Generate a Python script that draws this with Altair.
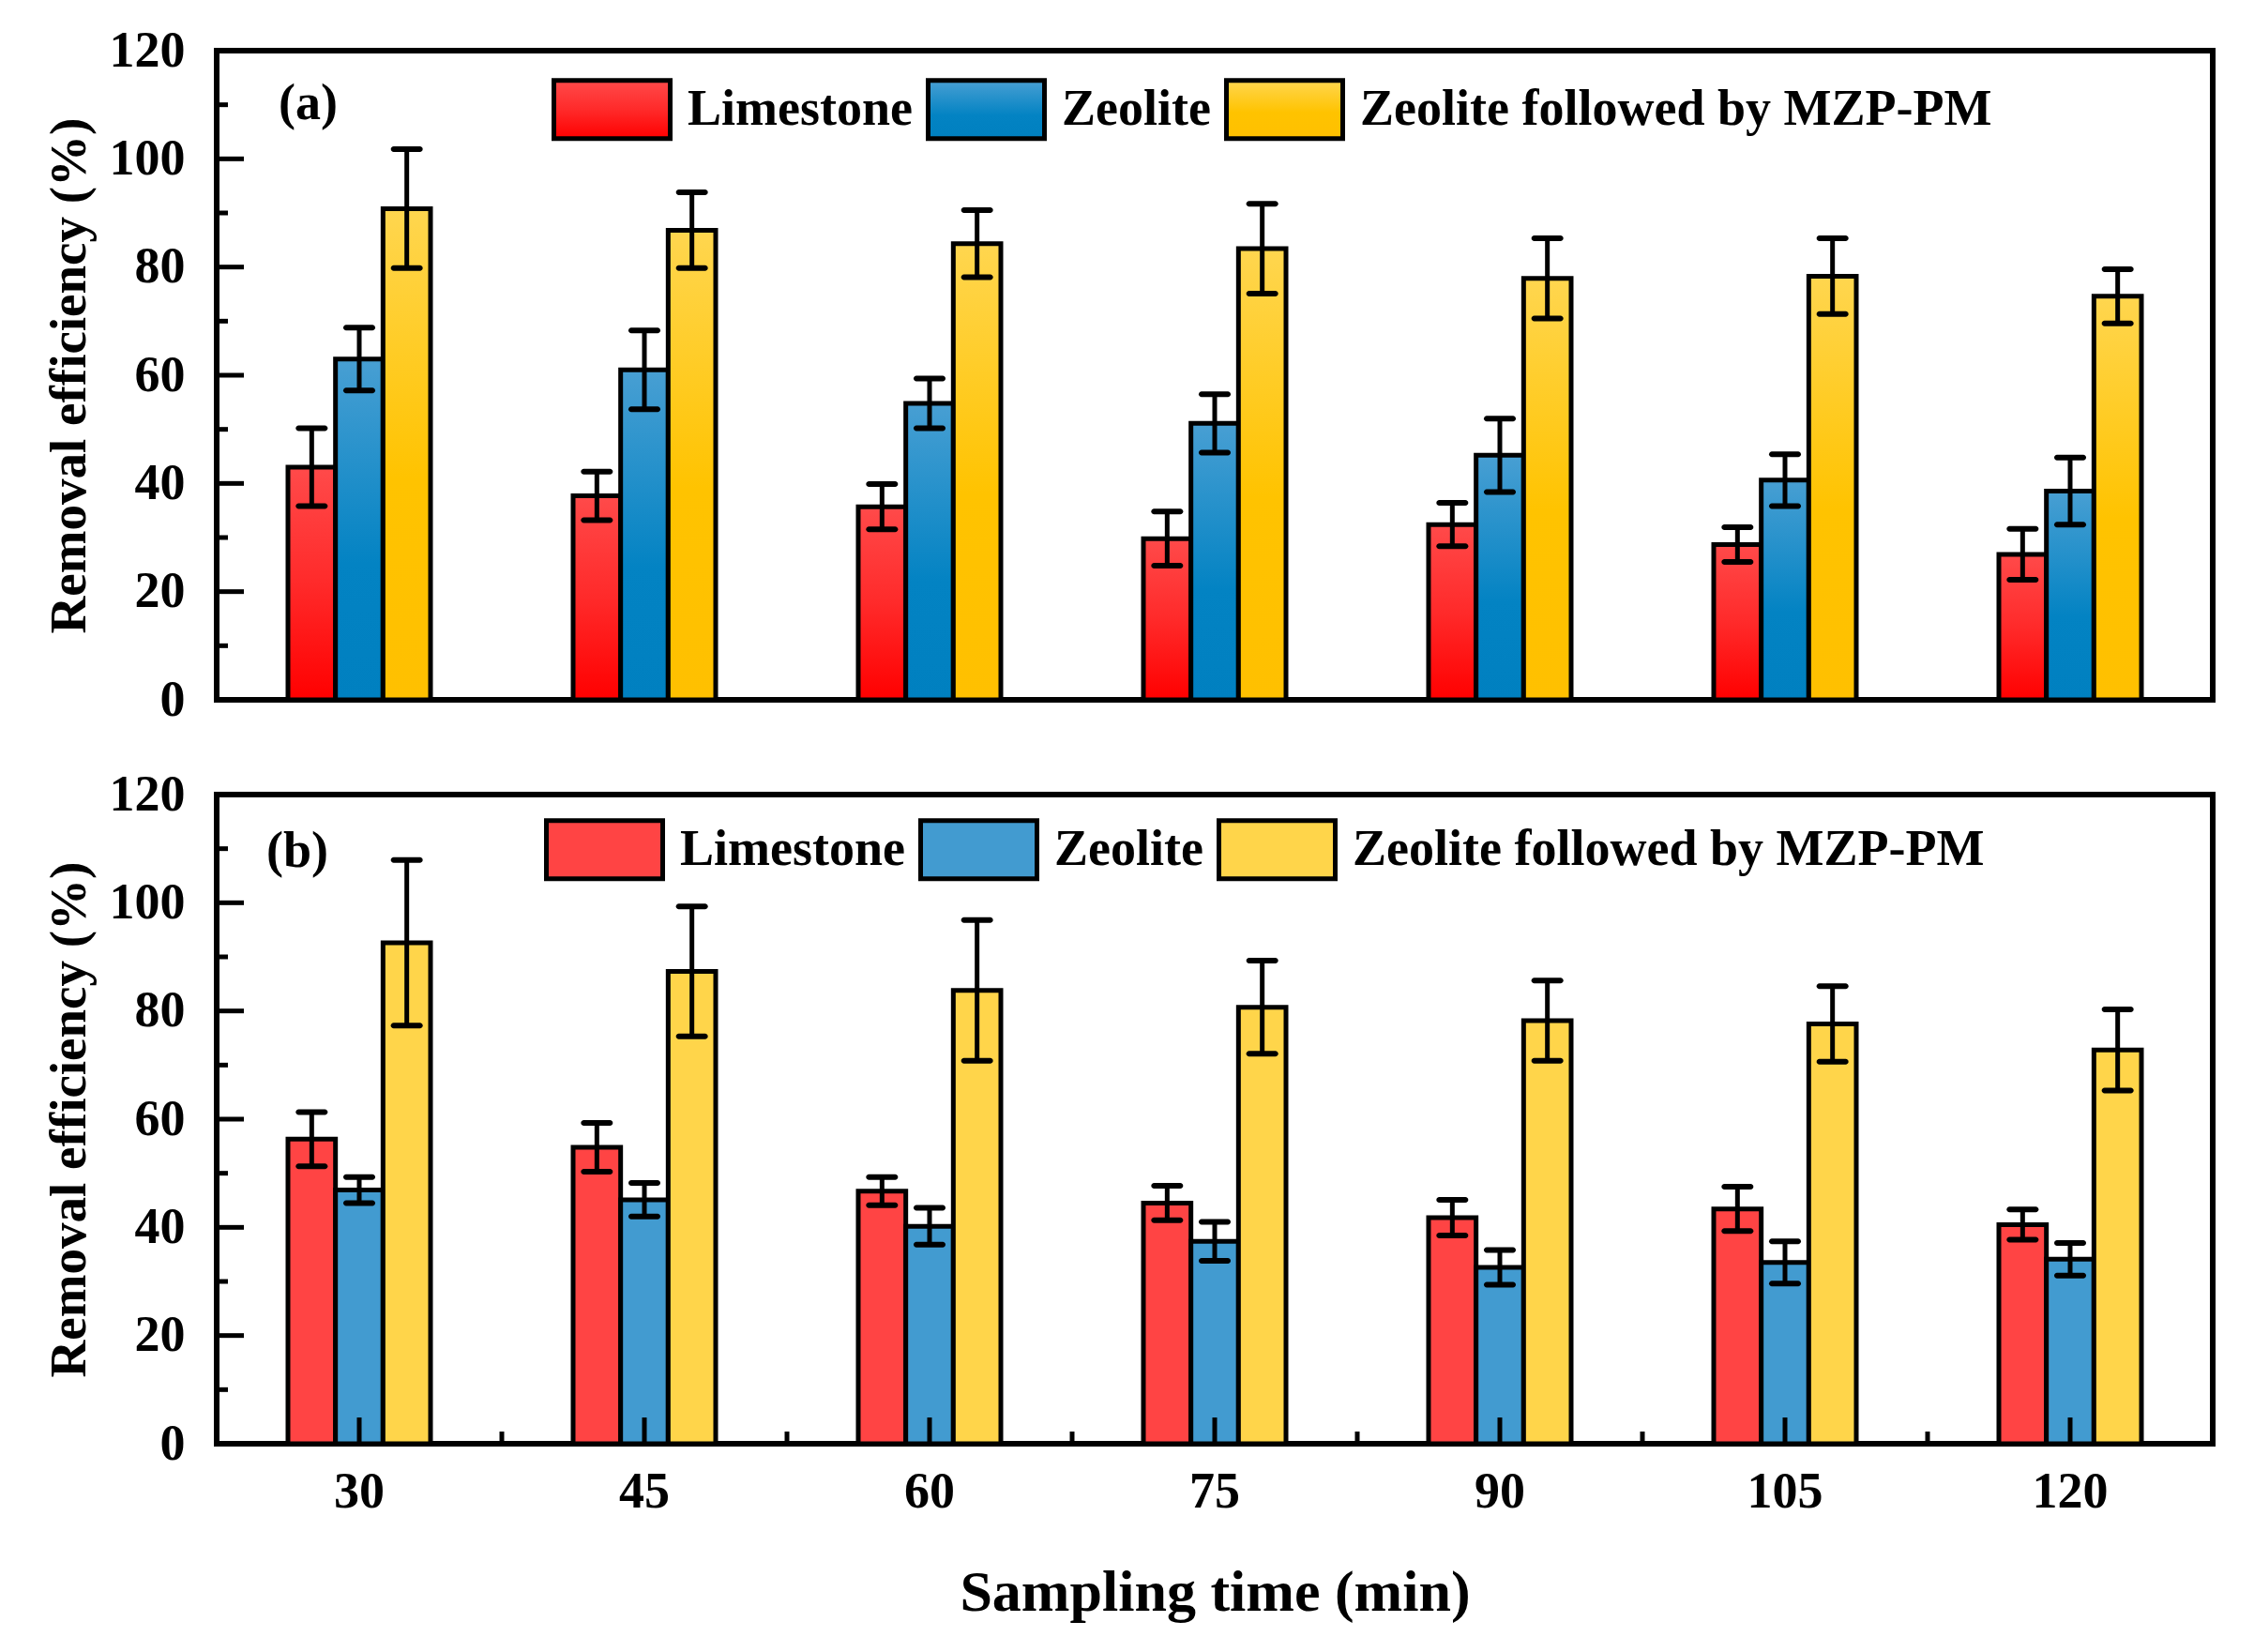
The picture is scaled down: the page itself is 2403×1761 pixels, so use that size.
import altair as alt
import pandas as pd

times = ["30", "45", "60", "75", "90", "105", "120"]
series = ["Limestone", "Zeolite", "Zeolite followed by MZP-PM"]

# panel (a)
a_lime = [43.0, 37.7, 35.7, 29.8, 32.4, 28.7, 26.9]
a_lime_err = [7.2, 4.5, 4.2, 5.0, 4.0, 3.2, 4.7]
a_zeo = [63.0, 61.0, 54.8, 51.1, 45.2, 40.6, 38.6]
a_zeo_err = [5.8, 7.3, 4.6, 5.4, 6.8, 4.8, 6.2]
a_mzp = [90.8, 86.8, 84.3, 83.4, 77.9, 78.3, 74.6]
a_mzp_err = [11.0, 7.0, 6.2, 8.3, 7.4, 7.0, 5.0]

# panel (b)
b_lime = [56.3, 54.8, 46.7, 44.5, 41.8, 43.4, 40.5]
b_lime_err = [5.0, 4.5, 2.6, 3.2, 3.3, 4.1, 2.8]
b_zeo = [46.9, 45.1, 40.2, 37.4, 32.6, 33.5, 34.1]
b_zeo_err = [2.4, 3.1, 3.4, 3.6, 3.2, 3.9, 3.0]
b_mzp = [92.6, 87.3, 83.8, 80.7, 78.2, 77.6, 72.8]
b_mzp_err = [15.3, 12.0, 13.0, 8.6, 7.4, 7.0, 7.5]

major_ticks = [0, 20, 40, 60, 80, 100, 120]
minor_ticks = [10, 30, 50, 70, 90, 110]

W, H = 2128, 692
STEP = W / len(times)
FONT = "Liberation Serif"


def grad(top, mid, bottom, mid_at):
    return {"expr": (
        "{gradient: 'linear', x1: 0, y1: 0, x2: 0, y2: 1, stops: ["
        f"{{offset: 0, color: '{top}'}}, {{offset: {mid_at}, color: '{mid}'}}, "
        f"{{offset: 1, color: '{bottom}'}}]}}"
    )}


colours_a = [
    grad("#ff4a4a", "#ff2a2a", "#ff0000", 0.5),
    grad("#489fd3", "#0383c3", "#0080c0", 0.6),
    grad("#ffd64f", "#ffc300", "#ffc000", 0.55),
]
colours_b = ["#ff4444", "#429bd0", "#ffd54a"]


def frame(means, errs):
    rows = []
    for s, m, e in zip(series, means, errs):
        for t, v, d in zip(times, m, e):
            rows.append({"time": t, "series": s, "mean": v, "lo": v - d, "hi": v + d})
    return pd.DataFrame(rows)


def panel(df, label, label_x, label_y, colours, leg_x, leg_y, show_x):
    x_scale = alt.Scale(domain=times, paddingInner=0.5, paddingOuter=0.25)
    y_scale = alt.Scale(domain=[0, 120], nice=False)
    if show_x:
        x_axis = alt.Axis(ticks=False, domain=False, grid=False, labelAngle=0,
                          labelPadding=24, titlePadding=50, titleFontSize=62)
    else:
        x_axis = None
    y_axis = alt.Axis(values=major_ticks, ticks=False, domain=False, grid=False,
                      labelPadding=34, titlePadding=14, titleFontSize=55)
    x = alt.X("time:N", scale=x_scale, axis=x_axis, title="Sampling time (min)")
    off = alt.XOffset("series:N", scale=alt.Scale(domain=series, paddingInner=0, paddingOuter=0))

    def y(field):
        return alt.Y(field, scale=y_scale, axis=y_axis, title="Removal efficiency (%)")

    base = alt.Chart(df)
    bars = base.mark_bar(stroke="black", strokeWidth=5).encode(
        x=x, xOffset=off, y=y("mean:Q"),
        color=alt.Color(
            "series:N",
            scale=alt.Scale(domain=series, range=colours),
            legend=alt.Legend(
                title=None, orient="none", legendX=leg_x, legendY=leg_y,
                direction="horizontal", symbolType="M-1,-0.5H1V0.5H-1Z",
                symbolSize=124 * 124, symbolStrokeColor="black", symbolStrokeWidth=5,
                symbolOpacity=1, labelFont=FONT, labelFontSize=54, labelFontWeight="bold",
                labelColor="black", labelOffset=16, columnPadding=6, padding=0,
                labelLimit=1000,
            ),
        ),
    )
    err = base.mark_rule(color="black", strokeWidth=5).encode(
        x=x, xOffset=off, y=y("lo:Q"), y2="hi:Q"
    )
    cap_hi = base.mark_tick(color="black", size=34, thickness=6, opacity=1, cornerRadius=3).encode(
        x=x, xOffset=off, y=y("hi:Q")
    )
    cap_lo = base.mark_tick(color="black", size=34, thickness=6, opacity=1, cornerRadius=3).encode(
        x=x, xOffset=off, y=y("lo:Q")
    )
    ymaj = alt.Chart(pd.DataFrame({"v": major_ticks})).mark_rule(color="black", strokeWidth=5).encode(
        y=y("v:Q"), x=alt.value(0), x2=alt.value(29)
    )
    ymin = alt.Chart(pd.DataFrame({"v": minor_ticks})).mark_rule(color="black", strokeWidth=5).encode(
        y=y("v:Q"), x=alt.value(0), x2=alt.value(12)
    )
    tag = alt.Chart(pd.DataFrame({"lab": [label]})).mark_text(
        font=FONT, fontSize=54, fontWeight="bold", align="left", baseline="middle", color="black"
    ).encode(x=alt.value(label_x), y=alt.value(label_y), text="lab:N")

    layers = [bars, err, cap_hi, cap_lo, ymaj, ymin]
    if show_x:
        tdf = pd.DataFrame({"time": times})
        xmaj = alt.Chart(tdf).mark_rule(color="black", strokeWidth=5).encode(
            x=x, y=alt.value(H), y2=alt.value(H - 28)
        )
        xmin = alt.Chart(tdf).mark_rule(color="black", strokeWidth=5, xOffset=STEP / 2).encode(
            x=x, y=alt.value(H), y2=alt.value(H - 13)
        )
        layers += [xmaj, xmin]
    layers.append(tag)
    return alt.layer(*layers).properties(width=W, height=H)


top = panel(frame([a_lime, a_zeo, a_mzp], [a_lime_err, a_zeo_err, a_mzp_err]),
            "(a)", 66, 57, colours_a, 357, -2, False)
bottom = panel(frame([b_lime, b_zeo, b_mzp], [b_lime_err, b_zeo_err, b_mzp_err]),
               "(b)", 53, 61, colours_b, 349, -6, True)

chart = alt.vconcat(top, bottom, spacing=41).resolve_scale(
    color="independent"
).resolve_legend(
    color="independent"
).properties(
    padding={"left": 35, "top": 16, "right": 30, "bottom": 10},
    background="white",
).configure(
    font=FONT
).configure_view(
    stroke="black", strokeWidth=6
).configure_axis(
    labelFont=FONT, labelFontSize=54, labelFontWeight="bold", labelColor="black",
    titleFont=FONT, titleFontWeight="bold", titleColor="black",
)

chart.save("out.html", embed_options={"renderer": "svg", "actions": False})
